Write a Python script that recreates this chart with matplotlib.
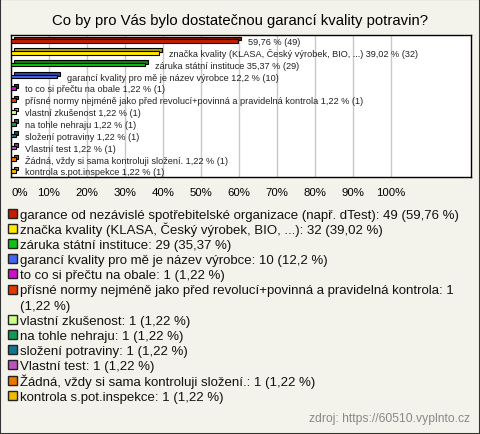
import matplotlib.pyplot as plt
from matplotlib.patches import Rectangle
import matplotlib.colors as mcolors

plt.rcParams['font.family'] = ['Liberation Sans', 'DejaVu Sans']

title = "Co by pro Vás bylo dostatečnou garancí kvality potravin?"
answers = [
    "garance od nezávislé spotřebitelské organizace (např. dTest)",
    "značka kvality (KLASA, Český výrobek, BIO, ...)",
    "záruka státní instituce",
    "garancí kvality pro mě je název výrobce",
    "to co si přečtu na obale",
    "přísné normy nejméně jako před revolucí+povinná a pravidelná kontrola",
    "vlastní zkušenost",
    "na tohle nehraju",
    "složení potraviny",
    "Vlastní test",
    "Žádná, vždy si sama kontroluji složení.",
    "kontrola s.pot.inspekce",
]
counts = [49, 32, 29, 10, 1, 1, 1, 1, 1, 1, 1, 1]
percents = [59.76, 39.02, 35.37, 12.2, 1.22, 1.22, 1.22, 1.22, 1.22, 1.22, 1.22, 1.22]
# the first bar label shows only the numbers in the original
bar_names = [""] + answers[1:]
colors = ["#c41e00", "#ffe800", "#12c012", "#4466ee", "#cc11cc", "#e03a00",
          "#ccff88", "#119955", "#11778f", "#bb55bb", "#ee7700", "#eebb00"]
ticks = list(range(0, 101, 10))

W, H = 480, 435
bg = "#f4f3eb"
fig = plt.figure(figsize=(W / 100, H / 100), dpi=100, facecolor=bg)
fig.patches.append(Rectangle((0, 0), 1, 1, transform=fig.transFigure,
                             fill=False, edgecolor="#333333", lw=1.5))

fig.text(0.5, 1 - 21 / H, title, ha="center", va="center", fontsize=10.7)

# plot area in pixels: x 11..471, y 36..178
ax = fig.add_axes([11 / W, 1 - 178 / H, 460 / W, 142 / H])
ax.set_facecolor("white")
xmax = 460 / 3.8
ax.set_xlim(0, xmax)
n = len(percents)
ax.set_ylim(n - 0.5, -0.5)

for t in ticks:
    ax.axvline(t, color="#c8c8c8", lw=1, zorder=0)

dx = 2.5 / 3.8
dy = 2.5 / 11.83
h = 0.32
for i, (p, c) in enumerate(zip(percents, colors)):
    dark = [v * 0.7 for v in mcolors.to_rgb(c)]
    ax.barh(i - dy, p, left=dx, height=h, color=dark, edgecolor="black", lw=0.8, zorder=2)
    ax.barh(i, p, height=h, color=c, edgecolor="black", lw=0.8, zorder=3)
    name = bar_names[i]
    txt = (name + " " if name else "") + f"{str(p).replace('.', ',')} % ({counts[i]})"
    ax.annotate(txt, (p, i), xytext=(7, -0.5), textcoords="offset points",
                va="center", ha="left", fontsize=6.6, color="#222222", zorder=4)

ax.set_xticks(ticks)
ax.set_xticklabels([f"{t}%" for t in ticks], fontsize=8.2)
ax.get_xticklabels()[0].set_ha("left")
ax.tick_params(axis="x", length=0, pad=7)
ax.set_yticks([])
for s in ax.spines.values():
    s.set_color("black")
    s.set_linewidth(1)

# legend below the chart
y = 214
step = 15.2
for name, cnt, p, c in zip(answers, counts, percents, colors):
    label = f"{name}: {cnt} ({str(p).replace('.', ',')} %)"
    lines = [label]
    if len(label) > 78:
        cut = label.rfind(" ", 0, 78)
        lines = [label[:cut], label[cut + 1:]]
    fig.patches.append(Rectangle((7.5 / W, 1 - (y + 4.5) / H), 9 / W, 9 / H,
                                 transform=fig.transFigure, facecolor=c,
                                 edgecolor="#222222", lw=1))
    for line in lines:
        fig.text(20 / W, 1 - (y + 4.5) / H, line, ha="left", va="baseline",
                 fontsize=9.5, color="#111111")
        y += step

fig.text(470 / W, 1 - 419 / H, "zdroj: https://60510.vyplnto.cz", ha="right",
         va="center", fontsize=8.7, color="#888888")

fig.savefig("out.png", dpi=100, facecolor=bg)
